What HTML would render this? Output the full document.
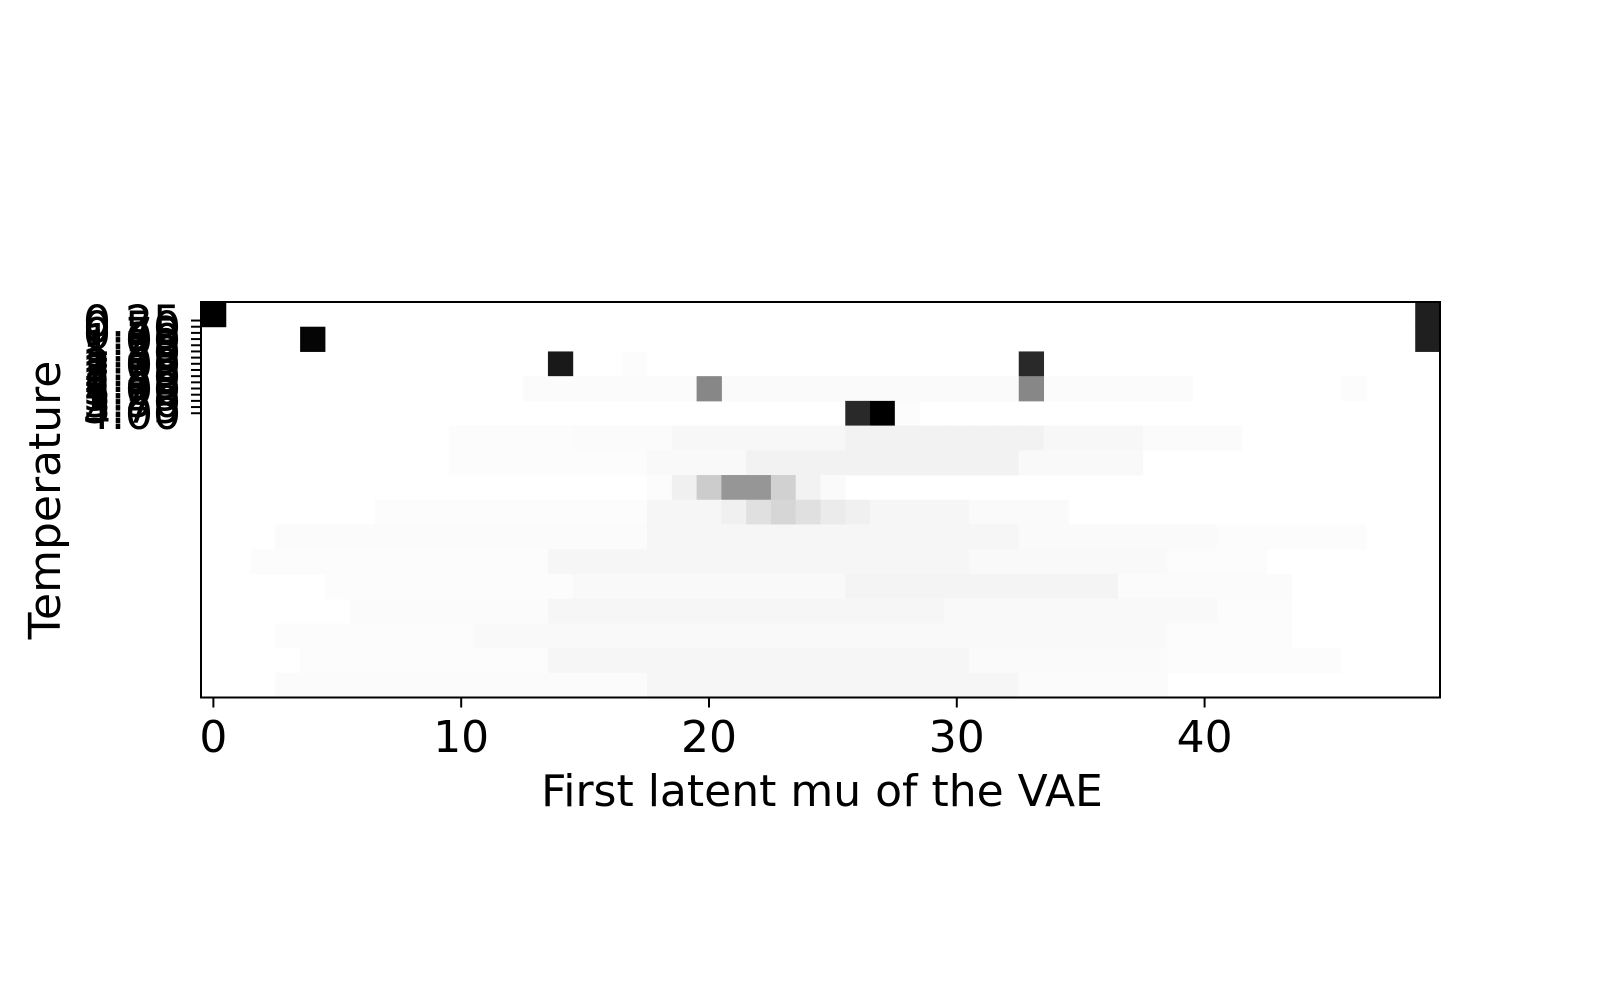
<!DOCTYPE html>
<html><head><meta charset="utf-8"><style>
html,body{margin:0;padding:0;background:#fff;}
svg text{font-family:"DejaVu Sans","Liberation Sans",sans-serif;fill:#000;}
</style></head><body>
<svg id="chart" width="1600" height="988" xmlns="http://www.w3.org/2000/svg">
<g id="cells"></g>
<rect x="201" y="302" width="1239" height="395.5" fill="none" stroke="#000" stroke-width="2"/>
<g id="xticks"></g>
<g id="yticks"></g>
<text x="822" y="806" font-size="44" text-anchor="middle">First latent mu of the VAE</text>
<text transform="translate(60,500) rotate(-90)" font-size="44" text-anchor="middle">Temperature</text>
</svg>
<script>
const nCols = 50;
const nRows = 16;
const xTickValues = [0, 10, 20, 30, 40];
const yTickLabels = ["0.25","0.50","0.75","1.00","1.25","1.50","1.75","2.00","2.25","2.50","2.75","3.00","3.25","3.50","3.75","4.00"];
const yTickValues = [0.25,0.5,0.75,1.0,1.25,1.5,1.75,2.0,2.25,2.5,2.75,3.0,3.25,3.5,3.75,4.0];
// segments: [row, colStart, colEnd, intensity 0..1]
const cellSegments = [
[0,0,0,1.0],[0,49,49,0.88],
[1,4,4,0.98],[1,49,49,0.88],
[2,14,14,0.9],[2,33,33,0.84],[2,17,17,0.01],
[3,13,19,0.015],[3,21,32,0.02],[3,34,39,0.015],[3,20,20,0.47],[3,33,33,0.47],[3,46,46,0.01],
[4,26,26,0.84],[4,27,27,1.0],[4,28,28,0.01],
[5,10,14,0.01],[5,15,18,0.015],[5,19,25,0.03],[5,26,33,0.05],[5,34,37,0.03],[5,38,41,0.015],
[6,10,17,0.01],[6,18,21,0.025],[6,22,32,0.05],[6,33,37,0.025],
[7,18,18,0.01],[7,19,19,0.06],[7,20,20,0.2],[7,21,21,0.41],[7,22,22,0.41],[7,23,23,0.18],[7,24,24,0.05],[7,25,25,0.02],
[8,7,17,0.01],[8,18,20,0.035],[8,21,21,0.06],[8,22,22,0.12],[8,23,23,0.16],[8,24,24,0.12],[8,25,25,0.08],[8,26,26,0.06],[8,27,30,0.035],[8,31,34,0.02],
[9,3,17,0.015],[9,18,32,0.035],[9,33,40,0.02],[9,41,46,0.01],
[10,2,13,0.01],[10,14,30,0.035],[10,31,38,0.025],[10,39,42,0.01],
[11,5,14,0.01],[11,15,25,0.025],[11,26,36,0.045],[11,37,43,0.015],
[12,6,13,0.015],[12,14,29,0.035],[12,30,40,0.025],[12,41,43,0.01],
[13,3,10,0.01],[13,11,25,0.025],[13,26,38,0.025],[13,39,43,0.01],
[14,4,13,0.01],[14,14,30,0.035],[14,31,38,0.02],[14,39,45,0.01],
[15,3,17,0.015],[15,18,32,0.035],[15,33,38,0.015]
];
const X0 = 201, X1 = 1440, Y0 = 302, Y1 = 697.5;
const cw = (X1 - X0) / nCols, ch = (Y1 - Y0) / nRows;
const xPix = v => X0 + (v + 0.5) * cw;
const yPix = v => Y0 + (v + 0.5) * ch;
const NS = "http://www.w3.org/2000/svg";
const cells = document.getElementById('cells');
cellSegments.forEach(s => {
  for (let c = s[1]; c <= s[2]; c++) {
    const r = document.createElementNS(NS, 'rect');
    r.setAttribute('x', xPix(c) - cw / 2);
    r.setAttribute('y', yPix(s[0]) - ch / 2);
    r.setAttribute('width', cw + 0.5);
    r.setAttribute('height', ch + 0.5);
    const g = Math.round(255 * (1 - s[3]));
    r.setAttribute('fill', `rgb(${g},${g},${g})`);
    
    
    cells.appendChild(r);
  }
});
const xt = document.getElementById('xticks');
xTickValues.forEach(v => {
  const x = xPix(v);
  const l = document.createElementNS(NS, 'line');
  l.setAttribute('x1', x); l.setAttribute('x2', x);
  l.setAttribute('y1', Y1); l.setAttribute('y2', Y1 + 10);
  l.setAttribute('stroke', '#000'); l.setAttribute('stroke-width', '2');
  
  
  xt.appendChild(l);
  const t = document.createElementNS(NS, 'text');
  t.setAttribute('x', x); t.setAttribute('y', 752);
  t.setAttribute('font-size', '44'); t.setAttribute('text-anchor', 'middle');
  t.textContent = v;
  
  
  xt.appendChild(t);
});
const yt = document.getElementById('yticks');
yTickValues.forEach((v, i) => {
  const y = yPix(v);
  const l = document.createElementNS(NS, 'line');
  l.setAttribute('x1', X0 - 10); l.setAttribute('x2', X0);
  l.setAttribute('y1', y); l.setAttribute('y2', y);
  l.setAttribute('stroke', '#000'); l.setAttribute('stroke-width', '2');
  
  
  yt.appendChild(l);
  const t = document.createElementNS(NS, 'text');
  t.setAttribute('x', X0 - 20); t.setAttribute('y', y + 16);
  t.setAttribute('font-size', '44'); t.setAttribute('text-anchor', 'end');
  t.textContent = yTickLabels[i];
  
  
  yt.appendChild(t);
});
</script>
</body></html>
